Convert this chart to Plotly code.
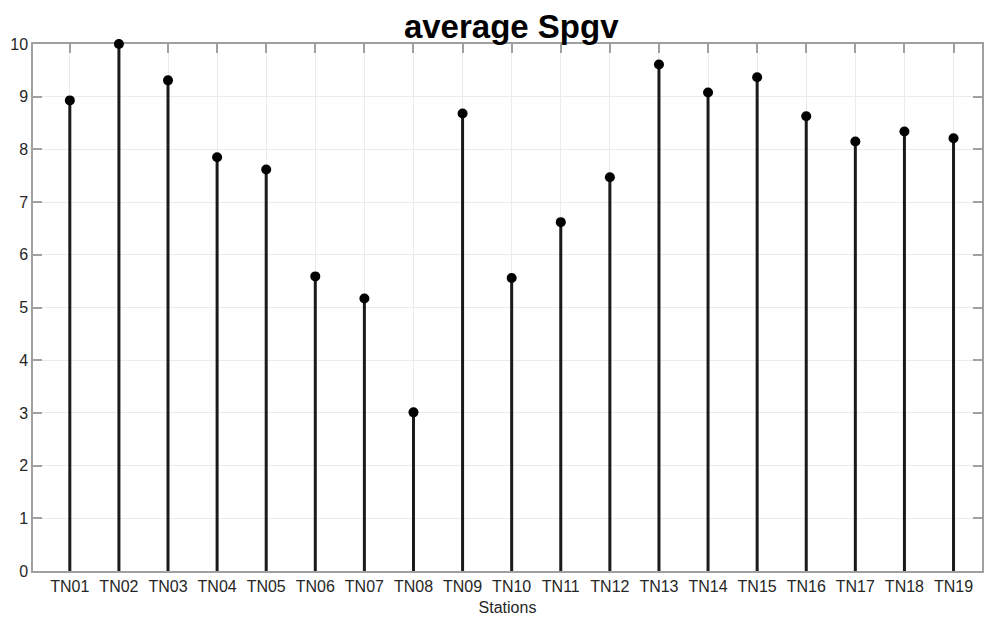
import plotly.graph_objects as go

# Station names and average Spgv per station
stations = ["TN01", "TN02", "TN03", "TN04", "TN05", "TN06", "TN07", "TN08", "TN09", "TN10",
            "TN11", "TN12", "TN13", "TN14", "TN15", "TN16", "TN17", "TN18", "TN19"]
avg_spgv = [8.93, 10.0, 9.31, 7.85, 7.62, 5.59, 5.17, 3.01, 8.68, 5.56,
            6.62, 7.47, 9.61, 9.08, 9.37, 8.63, 8.15, 8.34, 8.21]
y_ticks = [0, 1, 2, 3, 4, 5, 6, 7, 8, 9, 10]

xpos = list(range(1, len(stations) + 1))

# stem segments: baseline 0 up to each value
stem_x, stem_y = [], []
for x, v in zip(xpos, avg_spgv):
    stem_x += [x, x, None]
    stem_y += [0, v, None]

fig = go.Figure()
fig.add_trace(go.Scatter(x=stem_x, y=stem_y, mode="lines",
                         line=dict(color="#1a1a1a", width=3), hoverinfo="skip",
                         showlegend=False, cliponaxis=False))
fig.add_trace(go.Scatter(x=xpos, y=avg_spgv, mode="markers",
                         marker=dict(color="black", size=10), showlegend=False,
                         cliponaxis=False))

axis_color = "#a0a0a0"
tick_font = dict(family="Arial, Liberation Sans, sans-serif", size=16, color="#262626")

fig.update_layout(
    width=985, height=621,
    margin=dict(l=33, r=1, t=44, b=50),
    paper_bgcolor="white", plot_bgcolor="white",
    title=dict(text="<b>average Spgv</b>", x=0.519, xanchor="center", y=0.957, yanchor="middle",
               font=dict(family="Arial, Liberation Sans, sans-serif", size=33, color="black")),
    xaxis=dict(
        range=[0.25, 19.58], tickvals=xpos, ticktext=stations,
        showline=True, mirror="ticks", linecolor=axis_color, linewidth=1.5,
        ticks="inside", ticklen=9, tickcolor=axis_color, tickwidth=1.5,
        showgrid=True, gridcolor="#ebebeb", gridwidth=1, zeroline=False,
        tickfont=tick_font, layer="below traces",
        title=dict(text="Stations", font=tick_font, standoff=8),
    ),
    yaxis=dict(
        range=[0, 10], tickvals=y_ticks,
        showline=True, mirror="ticks", linecolor=axis_color, linewidth=1.5,
        ticks="inside", ticklen=9, tickcolor=axis_color, tickwidth=1.5,
        showgrid=True, gridcolor="#ebebeb", gridwidth=1, zeroline=False,
        tickfont=tick_font, layer="below traces",
    ),
)

fig.write_html("out.html")
